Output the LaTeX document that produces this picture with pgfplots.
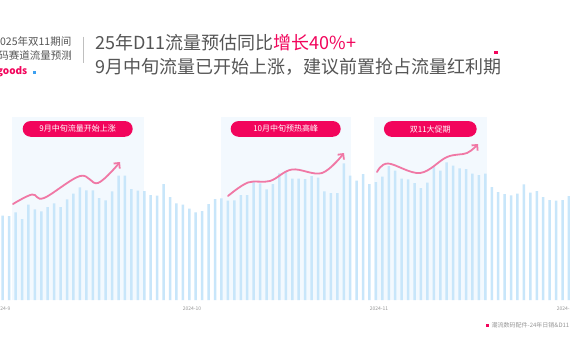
\documentclass[border=0pt]{standalone}
\usepackage{pgfplots}
\pgfplotsset{compat=1.18}
\usepackage{fontspec}
\setmainfont{Noto Sans CJK SC}
\usetikzlibrary{arrows.meta}
\definecolor{pinkc}{RGB}{242,5,92}
\definecolor{arrowpink}{RGB}{240,120,165}
\definecolor{barblue}{RGB}{200,230,250}
\definecolor{shadeblue}{RGB}{243,249,254}
\definecolor{textgray}{RGB}{85,85,85}
\definecolor{ticgray}{RGB}{150,150,150}
\definecolor{logoblue}{RGB}{60,160,240}
\begin{document}
\begin{tikzpicture}
\useasboundingbox (0,0) rectangle (570pt,360pt);
\clip (0,0) rectangle (570pt,360pt);
\fill[white] (0,0) rectangle (570pt,360pt);
\begin{scope}[x=1pt,y=-1pt,yshift=360pt]
% highlight regions
\fill[shadeblue] (11.7,117.3) rectangle (144,300);
\fill[shadeblue] (220.7,117.3) rectangle (351,300);
\fill[shadeblue] (374,117.3) rectangle (486.7,300);
\end{scope}
\begin{axis}[
  at={(0pt,60pt)}, anchor=south west,
  scale only axis, width=570pt, height=140pt,
  xmin=-0.42, xmax=88.16, ymin=0, ymax=140,
  axis lines=none,
  clip=false,
  xtick=\empty, ytick=\empty,
]
\addplot[ybar, bar width=2.5pt, fill=barblue, draw=none] coordinates {
(0,84.3)(1,84)(2,87.7)(3,81)(4,95.3)(5,90.7)(6,88.7)(7,93)(8,96.7)(9,93)
(10,100.7)(11,106.3)(12,112.7)(13,109.7)(14,109.7)(15,102)(16,99.7)(17,108.7)(18,124.3)(19,124.3)
(20,111)(21,109.3)(22,109)(23,105)(24,104.3)(25,116)(26,103)(27,96.7)(28,95.3)(29,91.3)
(30,87.7)(31,89)(32,96)(33,101)(34,101.7)(35,99.3)(36,99.7)(37,105)(38,105)(39,118.3)
(40,116.7)(41,110.7)(42,116)(43,126.7)(44,129)(45,121.3)(46,121.3)(47,121)(48,124)(49,122.3)
(50,108.7)(51,107)(52,107)(53,136.7)(54,124.3)(55,119.3)(56,126)(57,116)(58,118)(59,123.3)
(60,134)(61,129.3)(62,121.3)(63,120.7)(64,117)(65,112)(66,117.3)(67,133.3)(68,129.3)(69,137.7)
(70,134.3)(71,131.7)(72,131)(73,126.3)(74,125)(75,126.3)(76,113)(77,108)(78,106)(79,104.7)
(80,106.3)(81,115.7)(82,107.3)(83,109)(84,103)(85,100)(86,99.3)(87,100)(88,104)
};
\end{axis}
\begin{scope}[x=1pt,y=-1pt,yshift=360pt]
% tick labels
\foreach \xx/\lab in {2.7/2024-9,192/2024-10,379/2024-11,566/2024-12}
  \node[text=ticgray, font=\fontsize{5}{6}\selectfont, inner sep=0] at (\xx,309) {\lab};
% wavy arrows
\draw[arrowpink, line width=1.8pt, line cap=round, -{Straight Barb[length=4pt,width=8pt]}]
  plot[smooth, tension=0.6] coordinates {(13,204) (32,194.5) (44,198) (80,176) (98,183) (120,162)};
\draw[arrowpink, line width=1.8pt, line cap=round, -{Straight Barb[length=4pt,width=8pt]}]
  plot[smooth, tension=0.6] coordinates {(228,196) (248,182.5) (270,181) (292,169.5) (322,173) (344,153)};
\draw[arrowpink, line width=1.8pt, line cap=round, -{Straight Barb[length=4pt,width=8pt]}]
  plot[smooth, tension=0.6] coordinates {(377,172) (388,163.5) (420,173) (447,157) (467,153) (478,144)};
% pills
\node[fill=pinkc, rounded corners=7.8pt, minimum width=110pt, minimum height=15.7pt, inner sep=0,
  text=white, font=\fontsize{8}{9}\selectfont] at (77.7,128.9) {9月中旬流量开始上涨};
\node[fill=pinkc, rounded corners=7.8pt, minimum width=110pt, minimum height=15.7pt, inner sep=0,
  text=white, font=\fontsize{8}{9}\selectfont] at (285.7,128.9) {10月中旬预热高峰};
\node[fill=pinkc, rounded corners=7.8pt, minimum width=92.7pt, minimum height=15.7pt, inner sep=0,
  text=white, font=\fontsize{8}{9}\selectfont] at (430.3,129) {双11大促期};
% header left
\node[anchor=east, inner sep=0, text=textgray, font=\fontsize{10.5}{12}\selectfont] at (71.5,41.5) {2025年双11期间};
\node[anchor=east, inner sep=0, text=textgray, font=\fontsize{10.5}{12}\selectfont] at (72,55.5) {数码赛道流量预测};
\node[anchor=east, inner sep=0, text=pinkc, font=\fontsize{10}{12}\selectfont\bfseries] at (27.5,72) {goods};
\fill[logoblue] (32.7,70.5) rectangle (36,74);
\draw[black!25, line width=0.6pt] (83.3,36.7) -- (83.3,63.3);
% title
\node[anchor=west, inner sep=0, text=textgray, font=\fontsize{18}{20}\selectfont] at (95,42.5) {25年D11流量预估同比\textcolor{pinkc}{增长40\%+}};
\node[anchor=west, inner sep=0, text=textgray, font=\fontsize{18}{20}\selectfont] at (95,66.5) {9月中旬流量已开始上涨，建议前置抢占流量红利期};
\fill[pinkc] (494,50.7) rectangle (498,54.3);
% legend
\fill[pinkc] (485.5,323.6) rectangle (488.5,327);
\node[anchor=west, inner sep=0, text=ticgray, font=\fontsize{6}{7}\selectfont] at (491.5,325.5) {潮流数码配件-24年日销\&D11};
\end{scope}
\end{tikzpicture}
\end{document}
